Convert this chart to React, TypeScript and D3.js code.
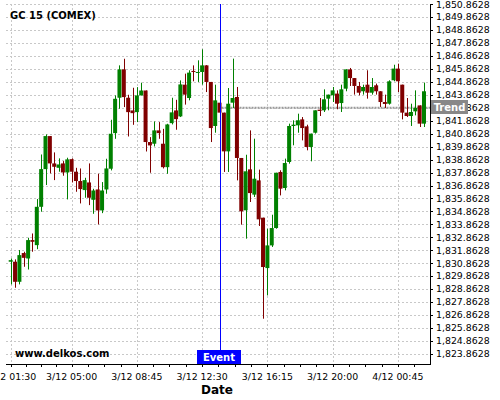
import React from "react";
import * as d3 from "d3";

const opens = [1830.98,1830.98,1829.43,1831.65,1831.23,1832.65,1832.26,1835.22,1838.13,1840.68,1838.57,1838.23,1838.57,1837.87,1838.90,1837.93,1837.21,1836.51,1837.10,1835.76,1836.56,1834.94,1836.56,1838.16,1840.91,1843.64,1845.83,1843.64,1842.66,1842.53,1843.82,1844.20,1840.22,1840.09,1841.12,1840.09,1838.28,1841.68,1842.66,1842.20,1844.65,1843.62,1845.71,1845.58,1845.63,1846.14,1844.86,1841.46,1843.26,1842.49,1839.50,1843.26,1843.70,1838.99,1834.95,1838.11,1836.16,1837.26,1834.38,1830.49,1832.24,1833.58,1837.91,1836.67,1838.68,1841.46,1841.51,1841.97,1841.43,1839.84,1840.94,1842.72,1842.67,1843.57,1843.83,1843.96,1843.23,1844.34,1845.83,1845.16,1844.55,1844.14,1844.65,1844.03,1844.60,1844.14,1843.31,1843.18,1844.99,1845.89,1844.65,1842.49,1842.23,1842.59,1843.05,1841.64];
const highs = [1831.23,1831.16,1831.88,1831.75,1832.83,1833.16,1835.82,1839.26,1840.81,1840.68,1839.42,1838.96,1838.75,1839.01,1838.96,1838.23,1838.18,1837.46,1838.57,1836.61,1837.77,1837.13,1838.93,1841.94,1843.82,1846.14,1846.65,1843.87,1844.41,1844.46,1844.80,1844.20,1840.60,1841.81,1841.76,1841.24,1841.63,1843.64,1843.48,1844.98,1845.50,1845.76,1846.14,1846.53,1847.38,1846.16,1844.86,1844.65,1843.30,1842.49,1844.39,1846.66,1844.47,1838.99,1839.24,1841.12,1840.48,1838.09,1834.38,1833.53,1834.61,1837.85,1838.04,1838.94,1841.64,1841.90,1842.41,1842.15,1841.56,1840.87,1842.67,1843.62,1844.29,1843.88,1844.47,1844.21,1844.65,1845.83,1845.94,1845.16,1844.86,1844.65,1845.76,1845.16,1844.73,1844.14,1843.88,1844.99,1846.19,1846.27,1844.65,1843.62,1843.18,1844.21,1843.05,1844.81];
const lows = [1829.23,1828.97,1829.23,1830.59,1830.38,1831.75,1831.95,1834.84,1836.90,1837.80,1837.28,1837.93,1837.62,1835.79,1837.10,1836.38,1835.48,1835.92,1835.35,1834.68,1833.86,1834.73,1836.23,1838.03,1840.47,1842.79,1842.92,1840.65,1841.55,1841.76,1843.82,1839.49,1837.85,1839.88,1840.47,1838.18,1837.77,1841.58,1841.17,1842.15,1843.11,1843.44,1844.91,1844.86,1844.65,1844.08,1840.22,1840.94,1842.40,1837.91,1837.91,1842.85,1837.26,1833.84,1832.76,1835.59,1835.98,1833.74,1826.58,1828.38,1832.12,1833.53,1836.10,1836.49,1838.55,1839.97,1840.94,1840.35,1839.58,1838.73,1840.87,1842.23,1842.54,1842.67,1843.31,1842.75,1842.54,1844.14,1844.55,1843.88,1843.83,1843.88,1843.57,1843.88,1843.88,1842.93,1842.85,1843.11,1844.91,1844.08,1841.97,1842.15,1841.46,1842.28,1841.38,1841.38];
const closes = [1831.10,1829.43,1831.49,1831.28,1832.65,1832.52,1835.22,1838.13,1840.68,1838.57,1838.31,1838.49,1837.87,1838.88,1837.93,1837.21,1836.59,1837.28,1835.92,1836.48,1834.94,1836.48,1838.18,1840.86,1843.56,1845.83,1843.69,1842.53,1842.45,1843.82,1844.20,1840.22,1839.96,1841.12,1840.91,1838.28,1841.58,1842.51,1841.99,1844.67,1843.88,1845.58,1845.63,1845.63,1846.14,1844.86,1841.30,1843.44,1842.49,1839.50,1843.18,1843.62,1838.99,1834.87,1837.96,1836.28,1837.39,1834.25,1830.57,1832.24,1833.58,1837.85,1836.62,1838.60,1841.46,1841.56,1841.90,1841.30,1839.84,1840.87,1842.67,1842.62,1843.52,1843.88,1844.21,1843.18,1844.29,1845.83,1845.16,1844.55,1844.03,1844.47,1844.03,1844.47,1844.14,1843.31,1843.16,1844.91,1845.89,1844.91,1842.49,1842.23,1842.54,1842.85,1841.64,1844.14];

const xTickIndex = [0, 14, 29, 44, 59, 74, 89];
const xTickLabels = ["3/12 01:30", "3/12 05:00", "3/12 08:45", "3/12 12:30", "3/12 16:15", "3/12 20:00", "4/12 00:45"];
const yTickValues = d3.range(1823.8628, 1850.87, 1);
const eventIndex = 48;
const trendValue = 1842.87;
const title = "GC 15 (COMEX)";
const watermark = "www.delkos.com";
const xAxisTitle = "Date";

export default function App() {
  const W = 500, H = 400;
  const left = 6, right = 430, top = 4, bottom = 364;
  const x = d3.scaleLinear().domain([0, 95]).range([10.7, 424]);
  const y = d3.scaleLinear().domain([1823.8628, 1850.8628]).range([353.9, 4.2]);
  const fmt = d3.format(",.4f");
  const font = "DejaVu Sans, Verdana, sans-serif";
  const grid = "#c8c8c8";
  const up = "#008000", down = "#800000";
  const bw = 4;

  const majorX = xTickIndex.map((i) => x(i));
  const minorX: number[] = [];
  for (let k = 0; k < majorX.length - 1; k++) {
    const step = (majorX[k + 1] - majorX[k]) / 4;
    for (let j = 1; j < 4; j++) minorX.push(majorX[k] + step * j);
  }
  {
    const n = majorX.length;
    const step = (majorX[n - 1] - majorX[n - 2]) / 4;
    for (let p = majorX[n - 1] + step; p <= right + 0.5; p += step) minorX.push(p);
  }

  const ex = Math.round(x(eventIndex)) + 0.5;
  const ty = y(trendValue);

  return (
    <svg width={W} height={H} style={{ position: "absolute", left: 0, top: 0, background: "#fff" }} fontFamily={font}>
      <rect x={0} y={0} width={W} height={H} fill="#fff" />
      {/* grid */}
      {yTickValues.map((v, i) => (
        <line key={"hg" + i} x1={left} x2={right} y1={Math.round(y(v)) + 0.5} y2={Math.round(y(v)) + 0.5} stroke={grid} strokeDasharray="2,2" />
      ))}
      {majorX.map((px, i) => (
        <line key={"vg" + i} x1={Math.round(px) + 0.5} x2={Math.round(px) + 0.5} y1={top} y2={bottom} stroke={grid} strokeDasharray="2,2" />
      ))}
      {/* trend line */}
      <line x1={x(eventIndex) + 2} x2={right} y1={ty} y2={ty} stroke="#9a9a9a" strokeWidth={2} strokeDasharray="2,1" />
      {/* candles */}
      {opens.map((o, i) => {
        const c = closes[i];
        const col = c >= o ? up : down;
        const cx = x(i);
        const yTop = y(Math.max(o, c));
        const yBot = y(Math.min(o, c));
        return (
          <g key={"c" + i}>
            <line x1={Math.round(cx) + 0.5} x2={Math.round(cx) + 0.5} y1={y(highs[i])} y2={y(lows[i])} stroke={col} strokeWidth={1} />
            <rect x={cx - bw / 2} y={yTop} width={bw} height={Math.max(1, yBot - yTop)} fill={col} />
          </g>
        );
      })}
      {/* event line */}
      <line x1={ex} x2={ex} y1={top} y2={bottom} stroke="#0000ff" strokeWidth={1} />
      {/* axes */}
      <line x1={right + 0.5} x2={right + 0.5} y1={top} y2={bottom} stroke="#000" />
      <line x1={left} x2={right + 1} y1={bottom + 0.5} y2={bottom + 0.5} stroke="#000" />
      {yTickValues.map((v, i) => (
        <g key={"yt" + i}>
          <line x1={right} x2={right + 3} y1={Math.round(y(v)) + 0.5} y2={Math.round(y(v)) + 0.5} stroke="#000" />
          <text x={436} y={y(v)} dy="0.35em" fontSize={9.4} fill="#000">{fmt(v)}</text>
        </g>
      ))}
      {majorX.concat(minorX).map((px, i) => (
        <line key={"xt" + i} x1={Math.round(px) + 0.5} x2={Math.round(px) + 0.5} y1={bottom} y2={bottom + 3} stroke="#000" />
      ))}
      {majorX.map((px, i) => (
        <text key={"xl" + i} x={px} y={380} textAnchor="middle" fontSize={9.4} fill="#000">{xTickLabels[i]}</text>
      ))}
      {/* labels */}
      <text x={10} y={19} fontSize={10} fontWeight="bold" fill="#000">{title}</text>
      <text x={15} y={357} fontSize={10} fontWeight="bold" fill="#000">{watermark}</text>
      <text x={217} y={393.5} textAnchor="middle" fontSize={12} fontWeight="bold" fill="#000">{xAxisTitle}</text>
      {/* event box */}
      <rect x={197} y={350} width={44} height={14} fill="#0000ff" />
      <text x={219} y={361} textAnchor="middle" fontSize={10} fontWeight="bold" fill="#fff">Event</text>
      {/* trend box */}
      <rect x={431} y={100} width={37} height={14} fill="#888888" />
      <text x={449.5} y={111} textAnchor="middle" fontSize={10} fontWeight="bold" fill="#fff">Trend</text>
    </svg>
  );
}
